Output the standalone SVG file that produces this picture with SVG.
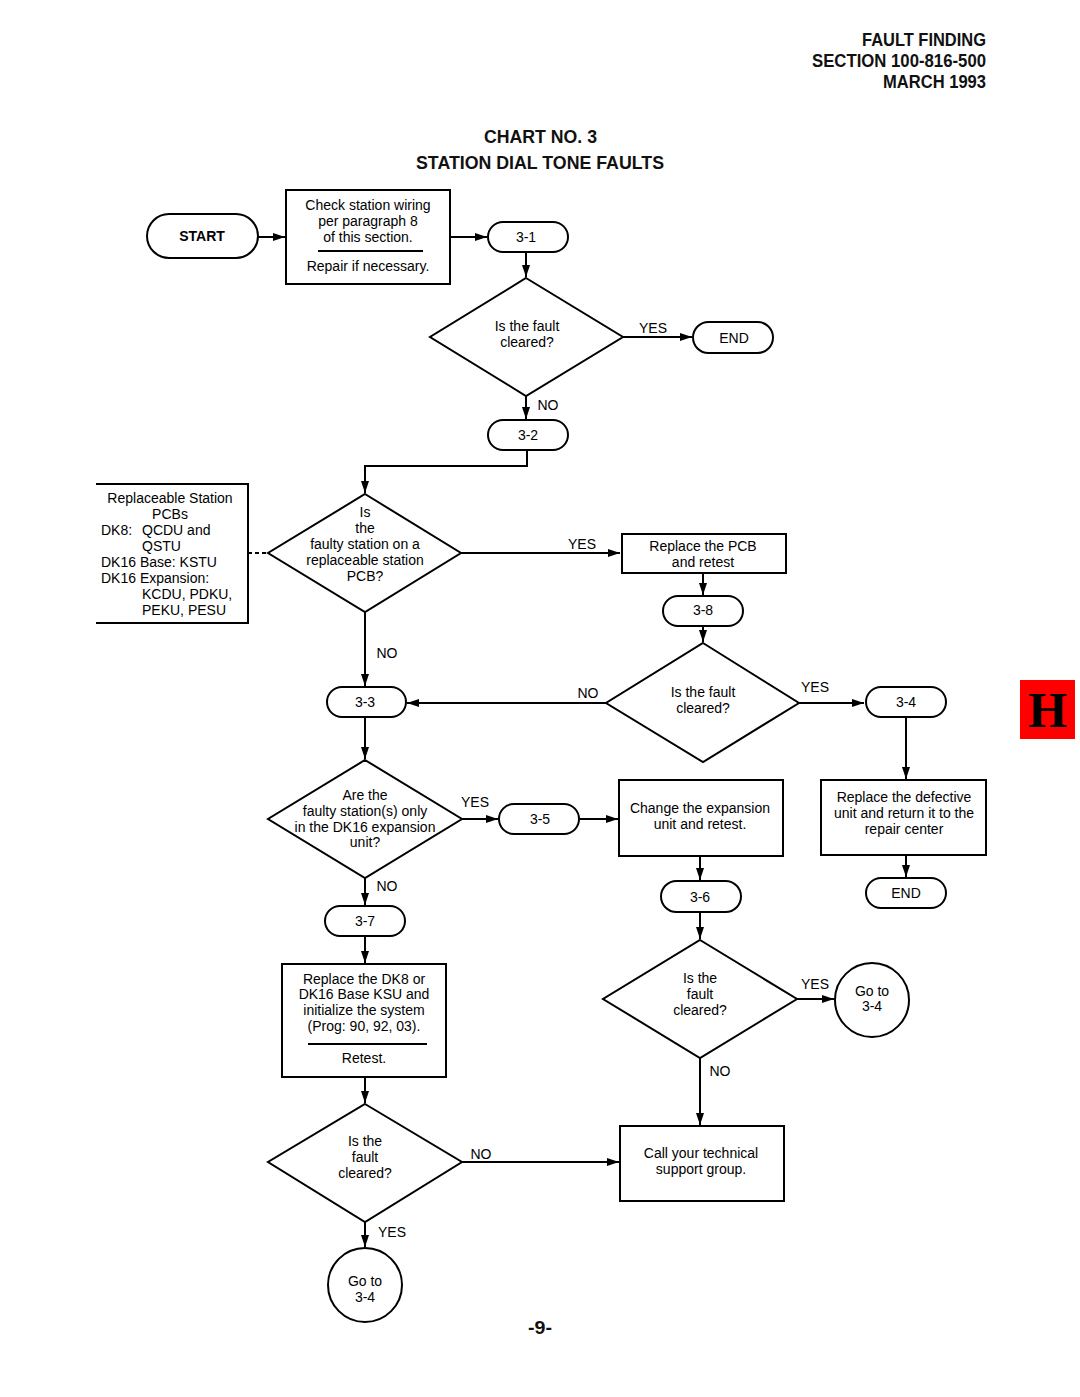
<svg xmlns="http://www.w3.org/2000/svg" width="1080" height="1397" viewBox="0 0 1080 1397">
<style>
.t{font-family:"Liberation Sans",Arial,sans-serif;font-size:14px;fill:#000;text-anchor:middle}
.l{text-anchor:start}
.b{font-weight:bold}
.h{font-family:"Liberation Sans",Arial,sans-serif;font-weight:bold;font-size:18px;fill:#111}
.s{fill:#fff;stroke:#000;stroke-width:2}
.c{fill:none;stroke:#000;stroke-width:2}
</style>
<defs>
<marker id="a" viewBox="0 0 12 8" refX="12" refY="4" markerWidth="12" markerHeight="8" markerUnits="userSpaceOnUse" orient="auto"><path d="M0,0 L12,4 L0,8 Z" fill="#000"/></marker>
</defs>
<rect width="1080" height="1397" fill="#fff"/>
<g id="header">
<text class="h" x="862" y="46" textLength="124" lengthAdjust="spacingAndGlyphs">FAULT FINDING</text>
<text class="h" x="812" y="67" textLength="174" lengthAdjust="spacingAndGlyphs">SECTION 100-816-500</text>
<text class="h" x="883" y="88" textLength="103" lengthAdjust="spacingAndGlyphs">MARCH 1993</text>
<text class="h" x="484" y="143" font-size="19.5" textLength="113" lengthAdjust="spacingAndGlyphs">CHART NO. 3</text>
<text class="h" x="416" y="169" font-size="19.5" textLength="248" lengthAdjust="spacingAndGlyphs">STATION DIAL TONE FAULTS</text>
</g>
<g id="connectors">
<path class="c" d="M258,237 H285" marker-end="url(#a)"/>
<path class="c" d="M450,237 H487" marker-end="url(#a)"/>
<path class="c" d="M526,252 V277" marker-end="url(#a)"/>
<path class="c" d="M623,337 H692" marker-end="url(#a)"/>
<path class="c" d="M526,396 V419" marker-end="url(#a)"/>
<path class="c" d="M527,450 V466 H365 V493" marker-end="url(#a)"/>
<path class="c" d="M248,553 H268" stroke-dasharray="4,3"/>
<path class="c" d="M461,553 H620" marker-end="url(#a)"/>
<path class="c" d="M703,573 V595" marker-end="url(#a)"/>
<path class="c" d="M703,626 V642" marker-end="url(#a)"/>
<path class="c" d="M799,703 H864" marker-end="url(#a)"/>
<path class="c" d="M906,717 V779" marker-end="url(#a)"/>
<path class="c" d="M906,855 V877" marker-end="url(#a)"/>
<path class="c" d="M606,703 H407" marker-end="url(#a)"/>
<path class="c" d="M365,612 V686" marker-end="url(#a)"/>
<path class="c" d="M365,717 V759" marker-end="url(#a)"/>
<path class="c" d="M462,819 H498" marker-end="url(#a)"/>
<path class="c" d="M579,819 H618" marker-end="url(#a)"/>
<path class="c" d="M700,856 V880" marker-end="url(#a)"/>
<path class="c" d="M700,912 V939" marker-end="url(#a)"/>
<path class="c" d="M797,999 H834" marker-end="url(#a)"/>
<path class="c" d="M700,1058 V1125" marker-end="url(#a)"/>
<path class="c" d="M365,878 V905" marker-end="url(#a)"/>
<path class="c" d="M365,936 V963" marker-end="url(#a)"/>
<path class="c" d="M365,1077 V1103" marker-end="url(#a)"/>
<path class="c" d="M462,1162 H619" marker-end="url(#a)"/>
<path class="c" d="M365,1222 V1247" marker-end="url(#a)"/>
<text class="t" x="653" y="333">YES</text>
<text class="t" x="548" y="410">NO</text>
<text class="t" x="582" y="549">YES</text>
<text class="t" x="815" y="692">YES</text>
<text class="t" x="588" y="698">NO</text>
<text class="t" x="387" y="658">NO</text>
<text class="t" x="475" y="807">YES</text>
<text class="t" x="815" y="989">YES</text>
<text class="t" x="720" y="1076">NO</text>
<text class="t" x="387" y="891">NO</text>
<text class="t" x="481" y="1159">NO</text>
<text class="t" x="392" y="1237">YES</text>
</g>
<g id="start"><rect class="s" x="147" y="214" width="111" height="44" rx="22"/><text class="t b" x="202" y="241">START</text></g>
<g id="check-wiring"><rect class="s" x="286" y="190" width="164" height="94"/>
<text class="t" x="368" y="210">Check station wiring</text><text class="t" x="368" y="226">per paragraph 8</text><text class="t" x="368" y="242">of this section.</text>
<line class="c" x1="318" y1="251" x2="423" y2="251"/><text class="t" x="368" y="271">Repair if necessary.</text></g>
<g id="c3-1"><rect class="s" x="488" y="222" width="80" height="30" rx="15"/><text class="t" x="526" y="242">3-1</text></g>
<g id="d1"><polygon class="s" points="526,278 623,337 526,396 430,337"/><text class="t" x="527" y="331">Is the fault</text><text class="t" x="527" y="347">cleared?</text></g>
<g id="end1"><rect class="s" x="693" y="322" width="80" height="31" rx="15.5"/><text class="t" x="734" y="343">END</text></g>
<g id="c3-2"><rect class="s" x="488" y="420" width="80" height="30" rx="15"/><text class="t" x="528" y="440">3-2</text></g>
<g id="pcb-list"><path class="c" d="M96,484 H248 V623 H96"/>
<text class="t" x="170" y="503">Replaceable Station</text><text class="t" x="170" y="519">PCBs</text>
<text class="t l" x="101" y="535">DK8:</text><text class="t l" x="142" y="535">QCDU and</text><text class="t l" x="142" y="551">QSTU</text>
<text class="t l" x="101" y="567">DK16 Base: KSTU</text><text class="t l" x="101" y="583">DK16 Expansion:</text>
<text class="t l" x="142" y="599">KCDU, PDKU,</text><text class="t l" x="142" y="615">PEKU, PESU</text></g>
<g id="d2"><polygon class="s" points="365,494 461,553 365,612 268,553"/>
<text class="t" x="365" y="517">Is</text><text class="t" x="365" y="533">the</text><text class="t" x="365" y="549">faulty station on a</text><text class="t" x="365" y="565">replaceable station</text><text class="t" x="365" y="581">PCB?</text></g>
<g id="replace-pcb"><rect class="s" x="622" y="534" width="164" height="39"/><text class="t" x="703" y="551">Replace the PCB</text><text class="t" x="703" y="567">and retest</text></g>
<g id="c3-8"><rect class="s" x="663" y="596" width="80" height="30" rx="15"/><text class="t" x="703" y="615">3-8</text></g>
<g id="d3"><polygon class="s" points="703,643 799,703 703,762 606,703"/><text class="t" x="703" y="697">Is the fault</text><text class="t" x="703" y="713">cleared?</text></g>
<g id="c3-4"><rect class="s" x="866" y="687" width="80" height="30" rx="15"/><text class="t" x="906" y="707">3-4</text></g>
<g id="replace-defective"><rect class="s" x="821" y="780" width="165" height="75"/><text class="t" x="904" y="802">Replace the defective</text><text class="t" x="904" y="818">unit and return it to the</text><text class="t" x="904" y="834">repair center</text></g>
<g id="end2"><rect class="s" x="866" y="878" width="80" height="30" rx="15"/><text class="t" x="906" y="898">END</text></g>
<g id="c3-3"><rect class="s" x="327" y="687" width="79" height="30" rx="15"/><text class="t" x="365" y="707">3-3</text></g>
<g id="d4"><polygon class="s" points="365,760 462,819 365,878 268,819"/>
<text class="t" x="365" y="800">Are the</text><text class="t" x="365" y="816">faulty station(s) only</text><text class="t" x="365" y="832">in the DK16 expansion</text><text class="t" x="365" y="847">unit?</text></g>
<g id="c3-5"><rect class="s" x="499" y="804" width="80" height="30" rx="15"/><text class="t" x="540" y="824">3-5</text></g>
<g id="change-expansion"><rect class="s" x="619" y="780" width="164" height="76"/><text class="t" x="700" y="813">Change the expansion</text><text class="t" x="700" y="829">unit and retest.</text></g>
<g id="c3-6"><rect class="s" x="661" y="881" width="80" height="31" rx="15.5"/><text class="t" x="700" y="902">3-6</text></g>
<g id="d5"><polygon class="s" points="700,940 797,999 700,1058 603,999"/><text class="t" x="700" y="983">Is the</text><text class="t" x="700" y="999">fault</text><text class="t" x="700" y="1015">cleared?</text></g>
<g id="goto1"><circle class="s" cx="872" cy="1000" r="37"/><text class="t" x="872" y="996">Go to</text><text class="t" x="872" y="1011">3-4</text></g>
<g id="call-support"><rect class="s" x="620" y="1126" width="164" height="75"/><text class="t" x="701" y="1158">Call your technical</text><text class="t" x="701" y="1174">support group.</text></g>
<g id="c3-7"><rect class="s" x="325" y="906" width="80" height="30" rx="15"/><text class="t" x="365" y="926">3-7</text></g>
<g id="replace-ksu"><rect class="s" x="282" y="964" width="164" height="113"/>
<text class="t" x="364" y="984">Replace the DK8 or</text><text class="t" x="364" y="999">DK16 Base KSU and</text><text class="t" x="364" y="1015">initialize the system</text><text class="t" x="364" y="1031">(Prog: 90, 92, 03).</text>
<line class="c" x1="308" y1="1044" x2="427" y2="1044"/><text class="t" x="364" y="1063">Retest.</text></g>
<g id="d6"><polygon class="s" points="365,1104 462,1162 365,1222 268,1162"/><text class="t" x="365" y="1146">Is the</text><text class="t" x="365" y="1162">fault</text><text class="t" x="365" y="1178">cleared?</text></g>
<g id="goto2"><circle class="s" cx="365" cy="1285" r="37"/><text class="t" x="365" y="1286">Go to</text><text class="t" x="365" y="1302">3-4</text></g>
<g id="footer">
<text class="h" x="528" y="1334" textLength="24" lengthAdjust="spacingAndGlyphs">-9-</text>
<rect x="1020" y="680" width="55" height="59" fill="#f00"/>
<text x="1048" y="727" text-anchor="middle" font-family="'Liberation Serif','Times New Roman',serif" font-weight="bold" font-size="50" fill="#000">H</text>
</g>
</svg>
